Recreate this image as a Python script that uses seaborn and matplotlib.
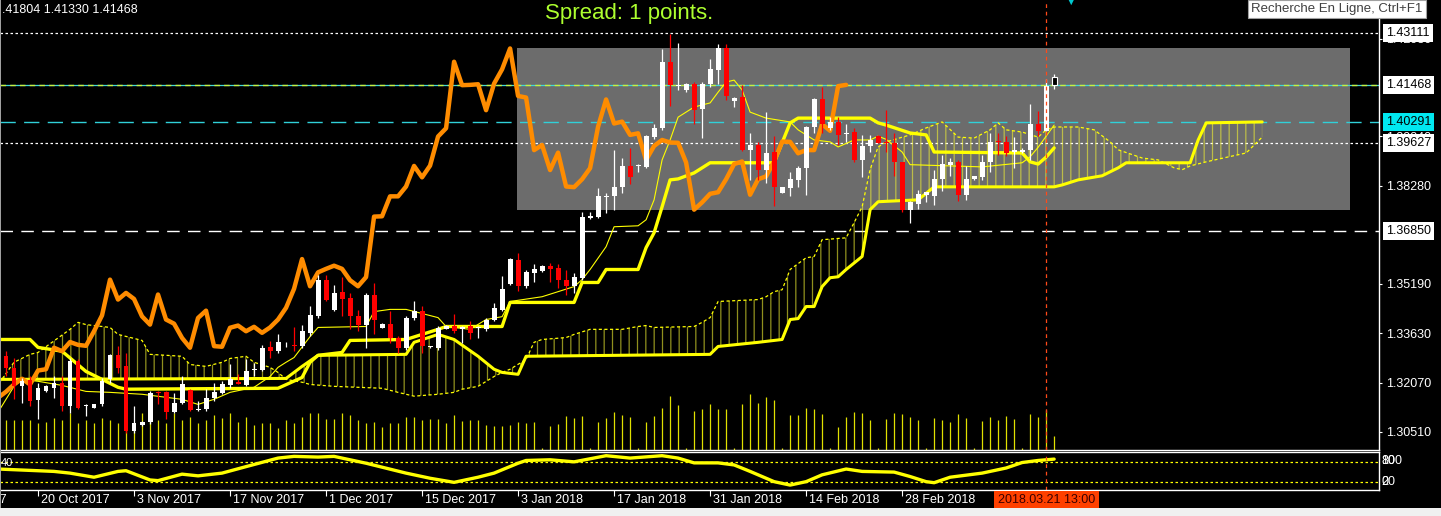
import numpy as np
import matplotlib
matplotlib.use("Agg")
import matplotlib.pyplot as plt
import matplotlib.transforms as mtransforms
from matplotlib.patches import Rectangle
import seaborn as sns

# ---------------- DATA ----------------
opens = [1.3291,1.3254,1.3196,1.3215,1.3151,1.3180,1.3191,1.3207,1.3133,1.3275,
         1.3134,1.3128,1.3138,1.3217,1.3293,1.3259,1.3054,1.3072,1.3081,1.3176,
         1.3177,1.3114,1.3143,1.3183,1.3121,1.3122,1.3159,1.3175,1.3199,1.3209,
         1.3199,1.3247,1.3248,1.3319,1.3306,1.3324,1.3326,1.3322,1.3364,1.3416,
         1.3532,1.3437,1.3492,1.3474,1.3416,1.3390,1.3485,1.3380,1.3393,1.3348,
         1.3317,1.3411,1.3434,1.3318,1.3317,1.3377,1.3387,1.3375,1.3385,1.3379,
         1.3377,1.3406,1.3437,1.3519,1.3595,1.3511,1.3553,1.3558,1.3576,1.3569,
         1.3532,1.3511,1.3537,1.3727,1.3731,1.3793,1.3795,1.3824,1.3891,1.3890,
         1.3889,1.3981,1.4010,1.4220,1.4145,1.4131,1.4149,1.4070,1.4149,1.4193,
         1.4262,1.4096,1.4109,1.3941,1.3957,1.3878,1.3936,1.3807,1.3821,1.3847,
         1.3884,1.4013,1.4101,1.4010,1.4031,1.3992,1.3999,1.3910,1.3954,1.3986,
         1.3966,1.3963,1.3905,1.3753,1.3771,1.3800,1.3795,1.3849,1.3894,1.3905,
         1.3800,1.3849,1.3855,1.3902,1.3969,1.3968,1.3936,1.3935,1.3941,1.4023,
         1.4002,1.4172]
highs = [1.3306,1.3285,1.3222,1.3227,1.3207,1.3199,1.3227,1.3227,1.3285,1.3280,
         1.3140,1.3140,1.3222,1.3296,1.3322,1.3301,1.3133,1.3086,1.3180,1.3180,
         1.3180,1.3175,1.3227,1.3186,1.3149,1.3186,1.3207,1.3212,1.3264,1.3233,
         1.3280,1.3270,1.3327,1.3338,1.3361,1.3335,1.3383,1.3390,1.3450,1.3548,
         1.3548,1.3516,1.3540,1.3490,1.3437,1.3490,1.3521,1.3395,1.3432,1.3354,
         1.3416,1.3466,1.3450,1.3322,1.3385,1.3390,1.3422,1.3385,1.3401,1.3385,
         1.3411,1.3459,1.3545,1.3600,1.3616,1.3563,1.3582,1.3579,1.3584,1.3582,
         1.3563,1.3553,1.3744,1.3744,1.3821,1.3805,1.3941,1.3915,1.3947,1.3897,
         1.3989,1.4025,1.4259,1.4309,1.4280,1.4154,1.4157,1.4157,1.4230,1.4275,
         1.4275,1.4109,1.4146,1.3994,1.3968,1.4062,1.3984,1.3826,1.3873,1.3891,
         1.4017,1.4107,1.4141,1.4047,1.4047,1.4025,1.4010,1.3989,1.3989,1.3989,
         1.4067,1.3994,1.3905,1.3779,1.3816,1.3810,1.3879,1.3926,1.3915,1.3910,
         1.3891,1.3860,1.3926,1.3994,1.3994,1.3986,1.3981,1.3947,1.4086,1.4065,
         1.4164,1.4180]
lows = [1.3227,1.3154,1.3143,1.3133,1.3091,1.3178,1.3159,1.3117,1.3112,1.3122,
        1.3100,1.3126,1.3133,1.3207,1.3238,1.3049,1.3049,1.3070,1.3075,1.3138,
        1.3091,1.3112,1.3138,1.3117,1.3117,1.3117,1.3149,1.3170,1.3191,1.3201,
        1.3196,1.3227,1.3243,1.3285,1.3301,1.3319,1.3306,1.3317,1.3354,1.3411,
        1.3464,1.3432,1.3416,1.3375,1.3369,1.3317,1.3359,1.3378,1.3333,1.3301,
        1.3311,1.3406,1.3301,1.3316,1.3311,1.3375,1.3364,1.3333,1.3346,1.3348,
        1.3370,1.3401,1.3432,1.3516,1.3495,1.3506,1.3524,1.3555,1.3524,1.3506,
        1.3482,1.3490,1.3530,1.3723,1.3726,1.3742,1.3752,1.3805,1.3834,1.3873,
        1.3884,1.3977,1.4004,1.4080,1.4131,1.4125,1.4023,1.3978,1.4141,1.4151,
        1.4099,1.4078,1.3939,1.3847,1.3847,1.3837,1.3763,1.3805,1.3795,1.3826,
        1.3800,1.3994,1.3994,1.4004,1.3957,1.3968,1.3905,1.3857,1.3936,1.3963,
        1.3936,1.3858,1.3747,1.3711,1.3755,1.3776,1.3768,1.3813,1.3858,1.3779,
        1.3784,1.3847,1.3847,1.3873,1.3926,1.3921,1.3884,1.3931,1.3910,1.3984,
        1.4002,1.4133]
closes = [1.3254,1.3196,1.3212,1.3149,1.3191,1.3196,1.3207,1.3133,1.3275,1.3128,
          1.3136,1.3138,1.3212,1.3293,1.3254,1.3054,1.3078,1.3083,1.3175,1.3173,
          1.3114,1.3143,1.3201,1.3120,1.3123,1.3159,1.3178,1.3201,1.3219,1.3201,
          1.3245,1.3249,1.3317,1.3306,1.3335,1.3326,1.3323,1.3369,1.3419,1.3532,
          1.3469,1.3490,1.3471,1.3416,1.3390,1.3485,1.3406,1.3393,1.3348,1.3317,
          1.3411,1.3434,1.3322,1.3320,1.3380,1.3387,1.3369,1.3383,1.3364,1.3381,
          1.3406,1.3443,1.3503,1.3597,1.3511,1.3555,1.3566,1.3576,1.3566,1.3530,
          1.3511,1.3540,1.3731,1.3732,1.3795,1.3795,1.3826,1.3891,1.3855,1.3892,
          1.3984,1.4010,1.4220,1.4146,1.4147,1.4149,1.4067,1.4151,1.4196,1.4262,
          1.4112,1.4107,1.3941,1.3957,1.3878,1.3933,1.3826,1.3824,1.3849,1.3884,
          1.4015,1.4101,1.4025,1.4031,1.3989,1.3994,1.3910,1.3954,1.3973,1.3965,
          1.3964,1.3902,1.3753,1.3776,1.3803,1.3808,1.3849,1.3897,1.3905,1.3800,
          1.3849,1.3858,1.3905,1.3968,1.3967,1.3931,1.3941,1.3941,1.4023,1.4002,
          1.4143,1.4147]
volume = [30,30,30,30,27,28,32,30,37,27, 30,27,32,30,27,30,27,37,31,30,
          27,37,30,33,27,30,35,32,37,28, 33,25,27,27,22,30,27,33,37,37,
          31,31,37,35,30,27,28,23,27,27, 33,33,30,31,31,27,35,29,30,30,
          25,24,24,25,28,27,28,2,24,26, 34,32,34,2,28,32,38,35,33,2,
          28,34,42,54,45,2,39,41,46,41, 41,2,46,56,47,53,50,2,35,35,
          42,41,36,2,23,33,38,37,30,2, 31,37,36,33,30,2,32,30,28,36,
          32,2,29,33,30,34,31,2,36,33, 40,14]
CHIKOU_SHIFT = 26

tenkan_bars = [-1,0,1,2,4,7,10,13,17,22,24,26,28,31,33,34,35,36,38,39,45,46,48,50,54,55,58,60,62,63,
               67,69,71,72,73,75,76,79,80,81,82,83,84,86,88,89,90,91,92,93,95,98,99,101,103,104,106,108,
               109,110,111,112,113,122,127,128,129,130,131]
tenkan_vals = [1.3113,1.3154,1.3195,1.3217,1.3211,1.3198,1.3179,1.3176,1.3170,1.3154,1.3138,1.3154,1.3176,
               1.3192,1.3226,1.3255,1.3271,1.3286,1.3352,1.3381,1.3384,1.3431,1.3438,1.3438,1.3412,1.3384,
               1.3375,1.3406,1.3415,1.3463,1.3478,1.3494,1.3510,1.3532,1.3564,1.3636,1.3699,1.3702,1.3721,
               1.3784,1.3910,1.3973,1.4045,1.4077,1.4090,1.4124,1.4156,1.4162,1.4131,1.4061,1.4042,1.4030,
               1.4005,1.3973,1.3967,1.3951,1.3973,1.3973,1.3985,1.3975,1.3955,1.3935,1.3895,1.3888,1.3901,
               1.3920,1.3950,1.3985,1.4020]
kijun_bars = [-1,3,4,7,10,14,15,34,37,38,39,42,43,50,54,55,62,63,71,72,74,75,79,80,81,82,83,84,86,88,
              96,98,99,108,109,110,113,115,116,127,128,129,130,131]
kijun_vals = [1.3343,1.3343,1.3318,1.3306,1.3242,1.3192,1.3186,1.3189,1.3223,1.3271,1.3293,1.3302,1.3340,
              1.3343,1.3375,1.3384,1.3384,1.3460,1.3460,1.3523,1.3523,1.3564,1.3564,1.3633,1.3680,1.3762,
              1.3847,1.3850,1.3869,1.3901,1.3901,1.4027,1.4042,1.4042,1.4027,1.4020,1.3995,1.3989,1.3935,
              1.3932,1.3904,1.3897,1.3919,1.3948]
spanb_bars = [-1,35,37,39,50,51,54,56,59,61,62,64,65,88,89,94,97,98,99,100,101,102,103,104,105,107,108,
              109,114,116,131,132,134,137,139,140,148,149,150,157]
spanb_vals = [1.3217,1.3220,1.3258,1.3293,1.3296,1.3334,1.3359,1.3343,1.3290,1.3249,1.3239,1.3233,1.3290,
              1.3296,1.3321,1.3334,1.3343,1.3406,1.3409,1.3447,1.3447,1.3510,1.3538,1.3541,1.3564,1.3605,
              1.3753,1.3778,1.3784,1.3825,1.3825,1.3831,1.3847,1.3860,1.3885,1.3901,1.3901,1.3973,1.4027,
              1.4030]
spana_bars = [-1,1,3,4,8,9,10,13,14,17,18,22,23,25,27,28,30,31,33,34,35,37,38,41,47,49,51,54,56,57,
              59,61,62,63,65,66,67,70,71,73,77,79,80,81,86,87,88,89,94,95,96,97,98,100,101,102,105,106,
              107,108,109,110,113,115,117,119,121,123,124,125,127,129,130,131,134,136,138,139,142,144,
              146,147,148,150,155,157]
spana_vals = [1.3200,1.3271,1.3296,1.3302,1.3375,1.3397,1.3390,1.3381,1.3359,1.3340,1.3296,1.3290,1.3264,
              1.3258,1.3271,1.3283,1.3290,1.3271,1.3255,1.3239,1.3217,1.3208,1.3201,1.3195,1.3189,1.3176,
              1.3164,1.3170,1.3176,1.3186,1.3195,1.3226,1.3239,1.3249,1.3280,1.3334,1.3343,1.3349,1.3359,
              1.3375,1.3375,1.3384,1.3387,1.3381,1.3384,1.3397,1.3412,1.3463,1.3469,1.3478,1.3494,1.3500,
              1.3564,1.3601,1.3605,1.3658,1.3664,1.3712,1.3762,1.3880,1.3951,1.3967,1.3989,1.4011,1.4030,
              1.3982,1.3979,1.4005,1.4027,1.4005,1.3998,1.3982,1.4005,1.4014,1.4014,1.4005,1.3967,1.3942,
              1.3916,1.3910,1.3885,1.3879,1.3891,1.3904,1.3932,1.3982]
osc_bars = [-1,3,6,8,11,14,15,18,19,22,24,27,30,34,36,39,41,45,50,53,56,59,61,64,65,68,71,75,78,82,
            84,86,89,91,93,96,98,100,102,105,107,111,113,115,116,118,122,125,127,129,131]
osc_vals = [58,54,51,46,34,51,53,26,24,43,38,46,65,90,95,93,95,75,46,31,19,34,46,75,83,85,79,97,90,97,
            90,76,76,70,51,21,11,21,41,58,51,49,36,21,18,34,46,61,77,83,87]
osc_levels = [80, 20]

price_ticks = [1.30510,1.32070,1.33630,1.35190,1.38280,1.39840,1.42930]
level_prices = [1.43111, 1.41468, 1.40291, 1.39627, 1.36850]
rect_bars = [63.9, 168.0]
rect_prices = [1.3753, 1.4263]
date_bars = [-8, 4, 16, 28, 40, 52, 64, 76, 88, 100, 112, 124]
date_labels = ["6 Oct 2017", "20 Oct 2017", "3 Nov 2017", "17 Nov 2017", "1 Dec 2017", "15 Dec 2017",
               "3 Jan 2018", "17 Jan 2018", "31 Jan 2018", "14 Feb 2018", "28 Feb 2018", ""]
cursor_bar = 130
cursor_label = "2018.03.21 13:00"

# ---------------- STYLE ----------------
sns.set_theme(style="ticks", rc={"axes.facecolor": "black", "figure.facecolor": "black"})
plt.rcParams['font.family'] = ['Liberation Sans', 'DejaVu Sans']
plt.rcParams['hatch.linewidth'] = 0.9

W, H = 1441, 516
fig = plt.figure(figsize=(W / 100, H / 100), dpi=100, facecolor='black')
def fx(px): return px / W
def fy(py): return 1 - py / H

main_rect = [0, fy(450), fx(1379), 450 / H]
ax_vol = fig.add_axes(main_rect)
ax = fig.add_axes(main_rect)
ax_o = fig.add_axes([0, fy(490), fx(1379), 38 / H])

XLIM = (-0.75, 171.6)
YELLOW = '#ffff00'

# volume
bars = np.arange(len(closes))
ax_vol.set_facecolor('black')
ax_vol.vlines(bars, 0, volume, colors='#e0e000', linewidth=0.9)
ax_vol.set_ylim(0, 450)
ax_vol.set_xlim(*XLIM)
ax_vol.set_xticks([]); ax_vol.set_yticks([])
for s in ax_vol.spines.values():
    s.set_visible(False)
ax_vol.grid(False)

# main price panel
ax.patch.set_visible(False)
ax.add_patch(Rectangle((rect_bars[0], rect_prices[0]), rect_bars[1] - rect_bars[0],
                       rect_prices[1] - rect_prices[0], facecolor='#6c6c6c', edgecolor='none', zorder=0.5))

ax.axhline(level_prices[0], color='white', lw=0.9, ls=(0, (2, 2)), zorder=1)
ax.axhline(level_prices[1], color='#40d8d8', lw=0.9, zorder=1)
ax.axhline(level_prices[1], color='#c8f040', lw=1.0, ls=(0, (4, 3)), zorder=1.1)
ax.axhline(level_prices[2], color='#30d0d8', lw=1.0, ls=(0, (11, 6)), zorder=1)
ax.axhline(level_prices[3], color='white', lw=0.9, ls=(0, (2, 2)), zorder=1)
ax.axhline(level_prices[4], color='white', lw=1.0, ls=(0, (9, 6)), zorder=1)

# cloud hatch between the two spans
poly_x = list(spana_bars) + list(spanb_bars[::-1])
poly_y = list(spana_vals) + list(spanb_vals[::-1])
ax.fill(poly_x, poly_y, facecolor='none', edgecolor=(0.95, 0.95, 0.2, 0.6), hatch='||',
        linewidth=0, zorder=1.8)

sns.lineplot(x=spana_bars, y=spana_vals, ax=ax, color=YELLOW, linewidth=0.9,
             linestyle=(0, (2.5, 2)), legend=False, errorbar=None, sort=False, zorder=2)
sns.lineplot(x=spanb_bars, y=spanb_vals, ax=ax, color=YELLOW, linewidth=2.2,
             legend=False, errorbar=None, sort=False, zorder=2.1)
sns.lineplot(x=kijun_bars, y=kijun_vals, ax=ax, color=YELLOW, linewidth=2.4,
             legend=False, errorbar=None, sort=False, zorder=2.5)
sns.lineplot(x=tenkan_bars, y=tenkan_vals, ax=ax, color=YELLOW, linewidth=0.8,
             legend=False, errorbar=None, sort=False, zorder=2.6)
sns.lineplot(x=bars - CHIKOU_SHIFT, y=closes, ax=ax, color='#ff8c00', linewidth=3.2,
             legend=False, errorbar=None, sort=False, zorder=4)

# candles
o = np.array(opens); c = np.array(closes); hi = np.array(highs); lo = np.array(lows)
face, edge, lws = [], [], []
for i in range(len(c)):
    if i == len(c) - 1:
        face.append('black'); edge.append('white'); lws.append(0.8)
    elif c[i] >= o[i]:
        face.append('white'); edge.append('white'); lws.append(0)
    else:
        face.append('#ff0000'); edge.append('#ff0000'); lws.append(0)
wick_col = ['white' if f == 'black' else f for f in face]
ax.vlines(bars, lo, hi, colors=wick_col, linewidth=0.9, zorder=5)
ax.bar(bars, np.maximum(np.abs(c - o), 0.0003), bottom=np.minimum(o, c), width=0.62,
       color=face, edgecolor=edge, linewidth=lws, zorder=5.1)

ax.axvline(cursor_bar, color='#ff4a1a', lw=0.9, ls=(0, (3, 3)), zorder=6)

ax.set_xlim(*XLIM)
ax.set_ylim(1.2994, 1.4415)
ax.set_xlabel(''); ax.set_ylabel('')
ax.set_xticks([])
ax.yaxis.tick_right()
ax.set_yticks(price_ticks, labels=[f"{t:.5f}" for t in price_ticks])
ax.tick_params(axis='y', which='both', colors='white', length=2.5, width=0.8, pad=2.5,
               labelsize=9, right=True, left=False, direction='out')
ax.grid(False)
for k in ['left', 'top']:
    ax.spines[k].set_visible(False)
for k in ['right', 'bottom']:
    ax.spines[k].set_visible(True)
    ax.spines[k].set_color('white')
    ax.spines[k].set_linewidth(1.0)

label_bgs = ['white', 'white', '#00e8f0', 'white', 'white']
for p, bg in zip(level_prices, label_bgs):
    ax.text(1.005, p, f"{p:.5f}", transform=ax.get_yaxis_transform(), ha='left', va='center',
            fontsize=9, color='black', clip_on=False, zorder=10,
            bbox=dict(boxstyle='square,pad=0.25', fc=bg, ec='none'))

# oscillator panel
ax_o.set_facecolor('black')
for lv in osc_levels:
    ax_o.axhline(lv, color=YELLOW, lw=0.9, ls=(0, (2, 2)))
sns.lineplot(x=osc_bars, y=osc_vals, ax=ax_o, color=YELLOW, linewidth=2.4,
             legend=False, errorbar=None, sort=False)
ax_o.axvline(cursor_bar, color='#ff4a1a', lw=0.9, ls=(0, (3, 3)))
ax_o.set_xlim(*XLIM)
ax_o.set_ylim(-3.4, 107.8)
ax_o.set_xlabel(''); ax_o.set_ylabel('')
ax_o.set_yticks([])
ax_o.set_xticks([b for b in date_bars if b >= 0], labels=[])
ax_o.tick_params(axis='x', colors='white', length=4, width=0.8, bottom=True, direction='out')
ax_o.grid(False)
ax_o.spines['left'].set_visible(False)
for k in ['right', 'bottom', 'top']:
    ax_o.spines[k].set_visible(True)
    ax_o.spines[k].set_color('white')
    ax_o.spines[k].set_linewidth(1.0)

blend = mtransforms.blended_transform_factory(ax_o.transData, ax_o.transAxes)
offset = mtransforms.ScaledTranslation(2 / 72, 0, fig.dpi_scale_trans)
for b, lab in zip(date_bars, date_labels):
    if lab:
        ax_o.text(b, -0.27, lab, transform=blend + offset, ha='left', va='center', fontsize=9,
                  color='white', clip_on=False)
ax_o.text(cursor_bar, -0.27, cursor_label, transform=blend, ha='center', va='center', fontsize=9,
          color='#3a0000', clip_on=False, zorder=10,
          bbox=dict(boxstyle='square,pad=0.3', fc='#ff4000', ec='none'))

yt = ax_o.get_yaxis_transform()
for txt, lv in [("100", osc_levels[0]), ("80", osc_levels[0]), ("20", osc_levels[1]), ("0", osc_levels[1])]:
    ax_o.text(1.0015, lv, txt, transform=yt, ha='left', va='center', fontsize=9, color='white',
              clip_on=False)

# header texts and window chrome
fig.text(fx(2), fy(10), ".41804 1.41330 1.41468", color='white', fontsize=9, ha='left', va='center')
fig.text(fx(545), fy(13), "Spread: 1 points.", color='#adff2f', fontsize=16, ha='left', va='center')
fig.text(fx(1337), fy(9), "Recherche En Ligne, Ctrl+F1", color='#404040', fontsize=9.5,
         ha='center', va='center',
         bbox=dict(boxstyle='square,pad=0.25', fc='white', ec='#a0a0a0', lw=0.8))
fig.text(fx(1071), fy(0), "▼", color='#00c8d0', fontsize=12, ha='center', va='center')
fig.text(fx(1), fy(463), "40", color='white', fontsize=8, ha='left', va='center')
fig.patches.append(Rectangle((0, 0), 1, 8 / H, transform=fig.transFigure,
                             facecolor='#f0f0f0', edgecolor='none'))
fig.patches.append(Rectangle((0, 8 / H), 1 / W, 1 - 8 / H, transform=fig.transFigure,
                             facecolor='#a0a0a0', edgecolor='none'))

fig.savefig('out.png', dpi=100, facecolor='black')
